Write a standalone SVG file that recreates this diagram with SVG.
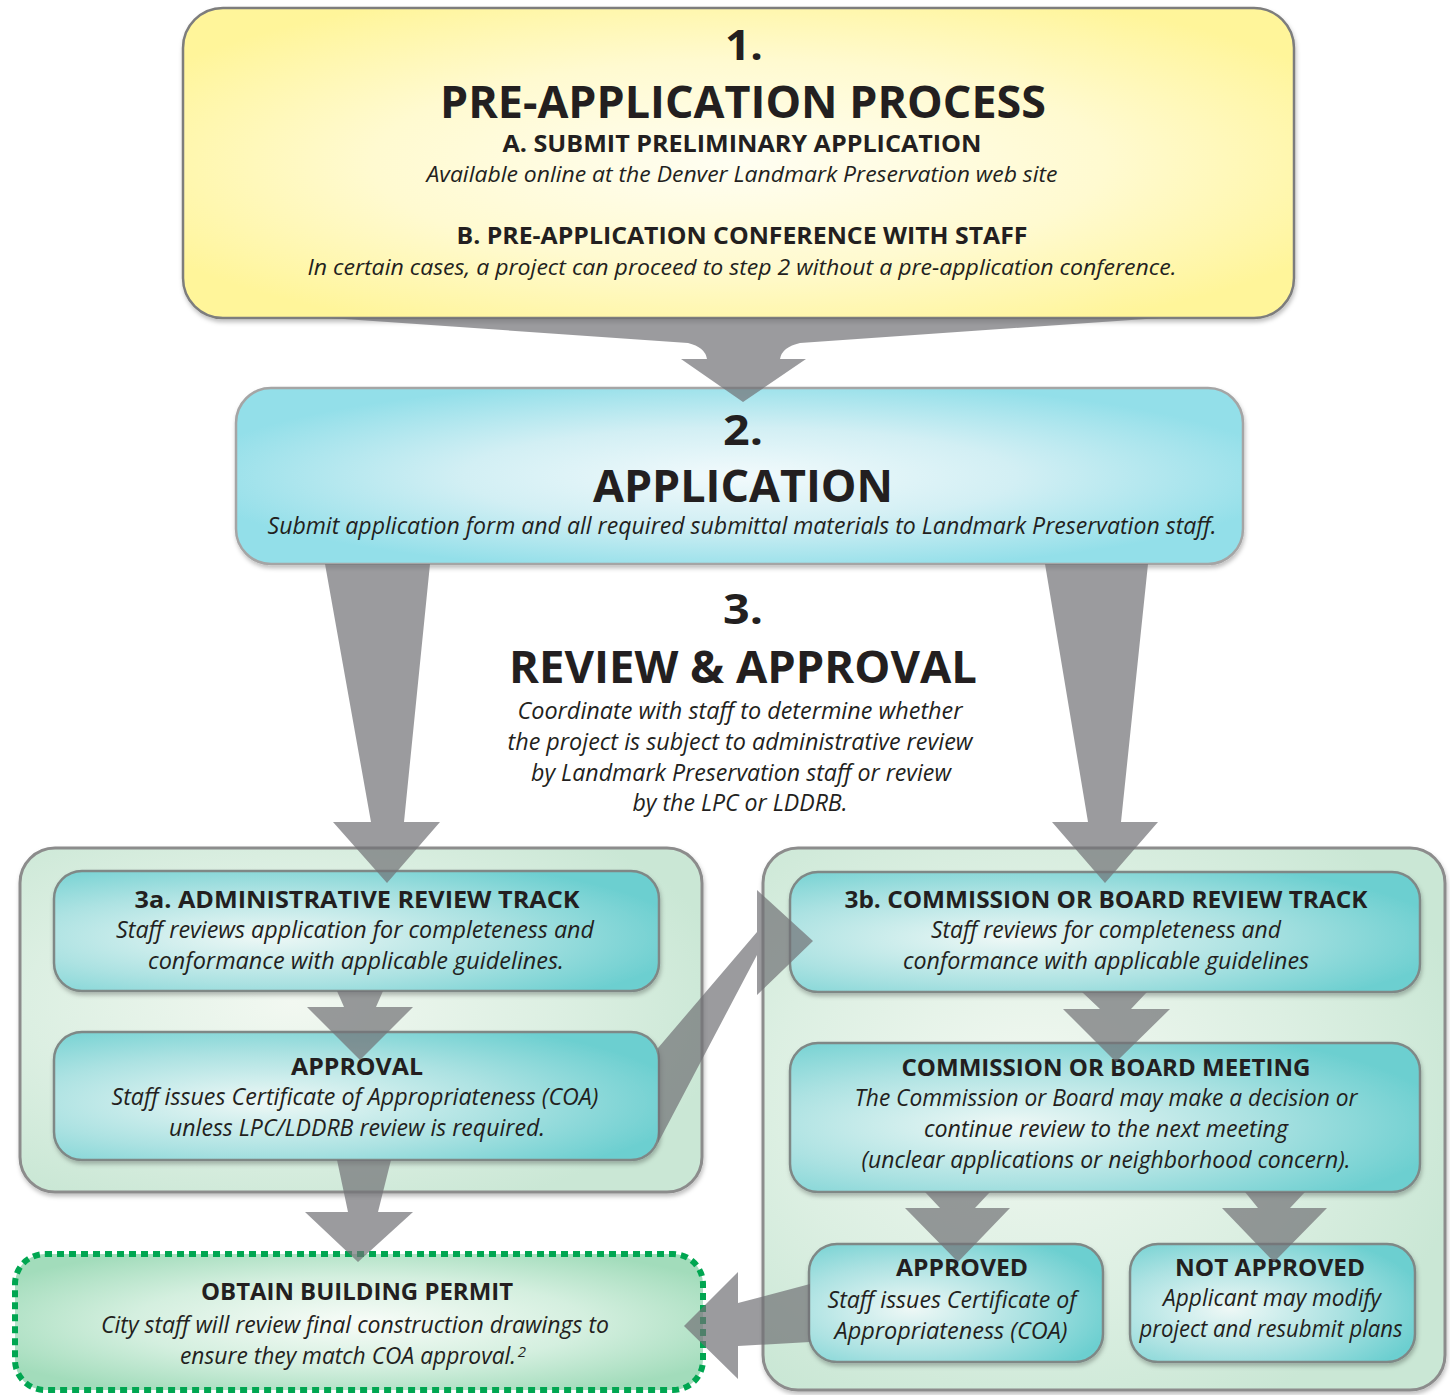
<svg xmlns="http://www.w3.org/2000/svg" width="1450" height="1395" viewBox="0 0 1450 1395">
<defs>
<radialGradient id="gYel" cx="50%" cy="50%" r="60%"><stop offset="0" stop-color="#fffef2"/><stop offset="0.55" stop-color="#fffad0"/><stop offset="1" stop-color="#fff59a"/></radialGradient>
<radialGradient id="gBlue" cx="50%" cy="50%" r="55%"><stop offset="0" stop-color="#f2fafc"/><stop offset="0.5" stop-color="#d2eff4"/><stop offset="1" stop-color="#93dfe9"/></radialGradient>
<radialGradient id="gTeal" cx="35%" cy="55%" r="70%"><stop offset="0" stop-color="#eef8f6"/><stop offset="0.55" stop-color="#ace2e2"/><stop offset="1" stop-color="#6ccfd0"/></radialGradient>
<radialGradient id="gCont" cx="40%" cy="45%" r="65%"><stop offset="0" stop-color="#f2f8f1"/><stop offset="0.6" stop-color="#dcefe2"/><stop offset="1" stop-color="#cae7d5"/></radialGradient>
<radialGradient id="gPerm" cx="50%" cy="50%" r="60%"><stop offset="0" stop-color="#f8fcf8"/><stop offset="0.55" stop-color="#d4efdf"/><stop offset="1" stop-color="#a2dcbb"/></radialGradient>
<filter id="sh" x="-5%" y="-5%" width="110%" height="115%"><feDropShadow dx="1" dy="3" stdDeviation="2" flood-color="#000" flood-opacity="0.25"/></filter>
<style>
.b1{fill:url(#gYel);stroke:#7d7d7d;stroke-width:2.5}
.b2{fill:url(#gBlue);stroke:#a5a5a5;stroke-width:2.5}
.cont{fill:url(#gCont);stroke:#8c8c8c;stroke-width:3}
.in{fill:url(#gTeal);stroke:#7f8886;stroke-width:2.5}
.perm{fill:url(#gPerm);stroke:#00a651;stroke-width:6;stroke-dasharray:7 5}
.arr{fill:#707175;fill-opacity:0.7}
text{font-family:"Open Sans","Noto Sans","Liberation Sans",sans-serif;fill:#231f20;text-anchor:middle}
.num{font-size:42px;font-weight:700}
.big{font-size:45px;font-weight:700}
.h{font-size:24px;font-weight:700}
.it{font-size:22px;font-style:italic}
.it2{font-size:23px;font-style:italic}
</style>
</defs>

<g id="node-1">
<rect class="b1" x="183" y="8" width="1111" height="310" rx="40" filter="url(#sh)"/>
<text class="num" x="744" y="60" textLength="38" lengthAdjust="spacingAndGlyphs">1.</text>
<text class="big" x="743" y="118" textLength="606" lengthAdjust="spacingAndGlyphs">PRE-APPLICATION PROCESS</text>
<text class="h" x="742" y="152" textLength="479" lengthAdjust="spacingAndGlyphs">A. SUBMIT PRELIMINARY APPLICATION</text>
<text class="it" x="742" y="182" textLength="631" lengthAdjust="spacingAndGlyphs">Available online at the Denver Landmark Preservation web site</text>
<text class="h" x="742" y="244" textLength="571" lengthAdjust="spacingAndGlyphs">B. PRE-APPLICATION CONFERENCE WITH STAFF</text>
<text class="it" x="742" y="275" textLength="869" lengthAdjust="spacingAndGlyphs">In certain cases, a project can proceed to step 2 without a pre-application conference.</text>
</g>

<g id="node-2">
<rect class="b2" x="236" y="388" width="1007" height="176" rx="35" filter="url(#sh)"/>
<text class="num" x="743" y="445" textLength="40" lengthAdjust="spacingAndGlyphs">2.</text>
<text class="big" x="743" y="502" textLength="300" lengthAdjust="spacingAndGlyphs">APPLICATION</text>
<text class="it2" x="742" y="534" textLength="949" lengthAdjust="spacingAndGlyphs">Submit application form and all required submittal materials to Landmark Preservation staff.</text>
</g>

<g id="node-3">
<text class="num" x="743" y="624" textLength="40" lengthAdjust="spacingAndGlyphs">3.</text>
<text class="big" x="743" y="683" textLength="468" lengthAdjust="spacingAndGlyphs">REVIEW &amp; APPROVAL</text>
<text class="it2" x="740" y="719" textLength="445" lengthAdjust="spacingAndGlyphs">Coordinate with staff to determine whether</text>
<text class="it2" x="740" y="750" textLength="465" lengthAdjust="spacingAndGlyphs">the project is subject to administrative review</text>
<text class="it2" x="741" y="781" textLength="420" lengthAdjust="spacingAndGlyphs">by Landmark Preservation staff or review</text>
<text class="it2" x="740" y="811" textLength="215" lengthAdjust="spacingAndGlyphs">by the LPC or LDDRB.</text>
</g>

<g id="container-3a">
<rect class="cont" x="20" y="848" width="682" height="344" rx="35" filter="url(#sh)"/>
</g>
<g id="container-3b">
<rect class="cont" x="763" y="848" width="682" height="542" rx="35" filter="url(#sh)"/>
</g>

<g id="node-3a">
<rect class="in" x="54" y="871" width="605" height="120" rx="28" filter="url(#sh)"/>
<text class="h" x="357" y="908" textLength="445" lengthAdjust="spacingAndGlyphs">3a. ADMINISTRATIVE REVIEW TRACK</text>
<text class="it2" x="355" y="938" textLength="478" lengthAdjust="spacingAndGlyphs">Staff reviews application for completeness and</text>
<text class="it2" x="356" y="969" textLength="416" lengthAdjust="spacingAndGlyphs">conformance with applicable guidelines.</text>
</g>

<g id="node-approval">
<rect class="in" x="54" y="1032" width="605" height="128" rx="28" filter="url(#sh)"/>
<text class="h" x="357" y="1075" textLength="132" lengthAdjust="spacingAndGlyphs">APPROVAL</text>
<text class="it2" x="355" y="1105" textLength="487" lengthAdjust="spacingAndGlyphs">Staff issues Certificate of Appropriateness (COA)</text>
<text class="it2" x="357" y="1136" textLength="376" lengthAdjust="spacingAndGlyphs">unless LPC/LDDRB review is required.</text>
</g>

<g id="node-3b">
<rect class="in" x="790" y="872" width="630" height="120" rx="28" filter="url(#sh)"/>
<text class="h" x="1106" y="908" textLength="523" lengthAdjust="spacingAndGlyphs">3b. COMMISSION OR BOARD REVIEW TRACK</text>
<text class="it2" x="1106" y="938" textLength="350" lengthAdjust="spacingAndGlyphs">Staff reviews for completeness and</text>
<text class="it2" x="1106" y="969" textLength="406" lengthAdjust="spacingAndGlyphs">conformance with applicable guidelines</text>
</g>

<g id="node-meeting">
<rect class="in" x="790" y="1043" width="630" height="149" rx="28" filter="url(#sh)"/>
<text class="h" x="1106" y="1076" textLength="409" lengthAdjust="spacingAndGlyphs">COMMISSION OR BOARD MEETING</text>
<text class="it2" x="1106" y="1106" textLength="503" lengthAdjust="spacingAndGlyphs">The Commission or Board may make a decision or</text>
<text class="it2" x="1106" y="1137" textLength="364" lengthAdjust="spacingAndGlyphs">continue review to the next meeting</text>
<text class="it2" x="1106" y="1168" textLength="489" lengthAdjust="spacingAndGlyphs">(unclear applications or neighborhood concern).</text>
</g>

<g id="node-approved">
<rect class="in" x="809" y="1244" width="294" height="118" rx="28" filter="url(#sh)"/>
<text class="h" x="962" y="1276" textLength="132" lengthAdjust="spacingAndGlyphs">APPROVED</text>
<text class="it2" x="952" y="1308" textLength="249" lengthAdjust="spacingAndGlyphs">Staff issues Certificate of</text>
<text class="it2" x="951" y="1339" textLength="233" lengthAdjust="spacingAndGlyphs">Appropriateness (COA)</text>
</g>

<g id="node-not-approved">
<rect class="in" x="1130" y="1244" width="285" height="118" rx="28" filter="url(#sh)"/>
<text class="h" x="1270" y="1276" textLength="190" lengthAdjust="spacingAndGlyphs">NOT APPROVED</text>
<text class="it2" x="1272" y="1306" textLength="218" lengthAdjust="spacingAndGlyphs">Applicant may modify</text>
<text class="it2" x="1271" y="1337" textLength="263" lengthAdjust="spacingAndGlyphs">project and resubmit plans</text>
</g>

<g id="node-permit">
<rect class="perm" x="15" y="1254" width="688" height="136" rx="30"/>
<text class="h" x="357" y="1300" textLength="312" lengthAdjust="spacingAndGlyphs">OBTAIN BUILDING PERMIT</text>
<text class="it2" x="355" y="1333" textLength="508" lengthAdjust="spacingAndGlyphs">City staff will review final construction drawings to</text>
<text class="it2" x="348" y="1364" textLength="336" lengthAdjust="spacingAndGlyphs">ensure they match COA approval.</text>
<text x="522" y="1357" style="font-size:15px;font-style:italic">2</text>
</g>

<g id="connectors">
<path class="arr" d="M330 318 L1160 318 L800 343 Q782 347 780 359 L806 359 L743 402 L681 359 L707 359 Q705 347 688 343 Z"/>
<path class="arr" d="M325 564 L430 564 L404 822 L440 822 L387 883 L333 822 L371 822 Z"/>
<path class="arr" d="M1045 564 L1148 564 L1121 822 L1158 822 L1105 883 L1052 822 L1088 822 Z"/>
<path class="arr" d="M337 991 L383 991 L376 1007 L413 1007 L360 1060 L307 1007 L344 1007 Z"/>
<path class="arr" d="M337 1160 L391 1160 L378 1212 L413 1212 L358 1262 L305 1212 L348 1212 Z"/>
<path class="arr" d="M1082 992 L1147 992 L1131 1009 L1170 1009 L1116 1062 L1063 1009 L1100 1009 Z"/>
<path class="arr" d="M925 1192 L990 1192 L975 1208 L1010 1208 L958 1262 L905 1208 L940 1208 Z"/>
<path class="arr" d="M1245 1192 L1305 1192 L1290 1208 L1327 1208 L1274 1262 L1222 1208 L1258 1208 Z"/>
<path class="arr" d="M658 1048 L757 932 L757 890 L813 941 L757 995 L757 955 L658 1143 Z"/>
<path class="arr" d="M810 1284 L738 1303 L738 1272 L684 1326 L738 1379 L738 1346 L810 1342 Z"/>
</g>
</svg>
